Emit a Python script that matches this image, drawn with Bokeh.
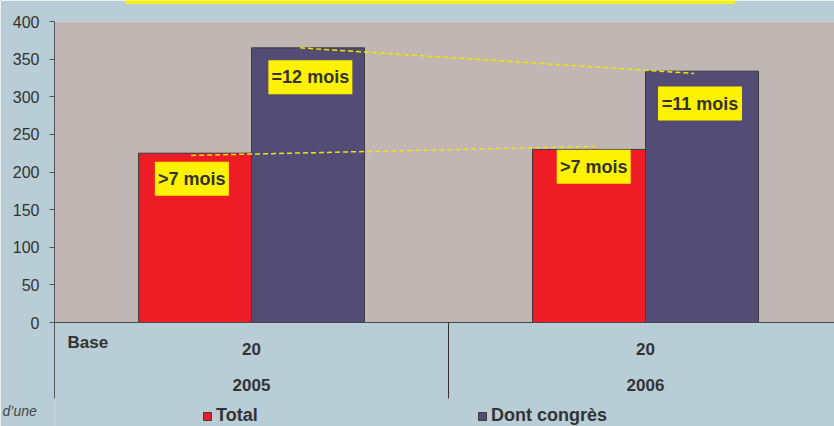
from bokeh.plotting import figure
from bokeh.models import Range1d, FixedTicker, Legend, LegendItem, Label, ColumnDataSource
from bokeh.core.properties import value
from bokeh.embed import file_html
from bokeh.resources import INLINE

# ---------------- data ----------------
years = ["2005", "2006"]
base_n = ["20", "20"]
total = [225, 230]
congres = [365, 334]
total_labels = [">7 mois", ">7 mois"]
congres_labels = ["=12 mois", "=11 mois"]
total_label_y = [191, 207]
congres_label_y = [326, 291]
trend_total = [222, 234]
trend_congres = [365, 331]
y_ticks = [0, 50, 100, 150, 200, 250, 300, 350, 400]

# ---------------- layout constants ----------------
W, H = 834, 426
LEFT = 54                  # frame left (px)
TOP = 21                   # frame top (px) = value 400
GROUP_PX = 394.0           # width of one category (px)
PX = 301.0 / 400.0         # px per y unit
ZERO_PAGE = 322.0          # y of value 0
x_end = (W - LEFT) / GROUP_PX
y_start = -(H - ZERO_PAGE) / PX
y_end = 400
table_bottom = -(398 - ZERO_PAGE) / PX

BG = "#B8CDD5"
PLOT_BG = "#C0B7B4"
RED = "#EE1C24"
PURPLE = "#534C74"
YELLOW = "#FFF200"
TXT = "#333333"
FONT = "Liberation Sans"

bar_w = 113.0 / GROUP_PX
half = bar_w / 2
centers = [i + 0.5 for i in range(len(years))]
x_total = [c - half for c in centers]
x_cong = [c + half for c in centers]

p = figure(width=W, height=H, output_backend="svg", toolbar_location=None,
           x_range=Range1d(0, x_end), y_range=Range1d(y_start, y_end),
           min_border_left=LEFT, min_border_right=0, min_border_top=TOP, min_border_bottom=0,
           x_axis_location=None)
p.background_fill_color = BG
p.border_fill_color = BG
p.outline_line_color = None
p.grid.visible = False

# plot area background
p.quad(left=[0], right=[x_end], bottom=[0], top=[400], fill_color=PLOT_BG, line_color=None)

# bars
src_t = ColumnDataSource(dict(x=x_total, top=total))
src_c = ColumnDataSource(dict(x=x_cong, top=congres))
r_t = p.vbar(x="x", top="top", bottom=0, width=bar_w, source=src_t,
             fill_color=RED, line_color="#3c3c3c", line_width=1)
r_c = p.vbar(x="x", top="top", bottom=0, width=bar_w, source=src_c,
             fill_color=PURPLE, line_color="#3c3c3c", line_width=1)

# dashed trend lines
p.line(x=[x_total[0] - 0.01, x_total[1] + 0.015], y=trend_total,
       line_color="#F2E600", line_width=1.5, line_dash="5 3")
p.line(x=[x_cong[0] - 0.02, x_cong[1] - 0.02], y=trend_congres,
       line_color="#F2E600", line_width=1.5, line_dash="5 3")

# zero baseline and divider
p.segment(x0=[0], y0=[0], x1=[x_end], y1=[0], line_color="#4a4a4a", line_width=1)
p.segment(x0=[1.0], y0=[0], x1=[1.0], y1=[table_bottom], line_color="#333333", line_width=1)

# value boxes
tx = [x_total[0] - 0.008, x_total[1] + 0.012]
cx = [x_cong[0] + 0.006, x_cong[1] - 0.005]
p.rect(x=tx, y=total_label_y, width=74, height=34,
       width_units="screen", height_units="screen", fill_color=YELLOW, line_color=None)
p.rect(x=cx, y=congres_label_y, width=84, height=34,
       width_units="screen", height_units="screen", fill_color=YELLOW, line_color=None)
p.text(x=tx, y=total_label_y, text=total_labels,
       text_font=value(FONT), text_font_style="bold", text_font_size="18px",
       text_color=TXT, text_align="center", text_baseline="middle")
p.text(x=cx, y=congres_label_y, text=congres_labels,
       text_font=value(FONT), text_font_style="bold", text_font_size="18px",
       text_color=TXT, text_align="center", text_baseline="middle")

# table under axis
p.text(x=[(67 - 54) / GROUP_PX], y=[-(341.5 - ZERO_PAGE) / PX], text=["Base"],
       text_font=value(FONT), text_font_style="bold", text_font_size="17px",
       text_color=TXT, text_align="left", text_baseline="middle")
p.text(x=centers, y=[-(348 - ZERO_PAGE) / PX] * len(centers), text=base_n,
       text_font=value(FONT), text_font_style="bold", text_font_size="17px",
       text_color=TXT, text_align="center", text_baseline="middle")
p.text(x=centers, y=[-(384.5 - ZERO_PAGE) / PX] * len(centers), text=years,
       text_font=value(FONT), text_font_style="bold", text_font_size="17px",
       text_color=TXT, text_align="center", text_baseline="middle")

# y axis
ax = p.yaxis[0]
ax.ticker = FixedTicker(ticks=y_ticks)
ax.bounds = (table_bottom, 400)
ax.axis_line_color = "#555555"
ax.major_tick_line_color = "#555555"
ax.major_tick_out = 5
ax.major_tick_in = 0
ax.minor_tick_line_color = None
ax.major_label_standoff = 10
ax.major_label_text_font = FONT
ax.major_label_text_font_size = "16px"
ax.major_label_text_color = TXT

# bottom edge of the (cropped) yellow title box, drawn in the top border
p.add_layout(Label(x=125, y=0, x_units="canvas", y_units="canvas", text="\u00a0" * 731,
                   text_font=FONT, text_font_size="3px", text_color=YELLOW,
                   background_fill_color=YELLOW, text_align="left", text_baseline="top"),
             "above")

# footnote fragment on the left (in a side panel so it is not clipped by the frame)
p.add_layout(Label(x=2, y=410, x_units="canvas", y_units="canvas", text="d\u2019une",
                   text_font=FONT, text_font_style="italic", text_font_size="14px",
                   text_color="#444444", text_align="left", text_baseline="middle"), "above")

# legend
legend = Legend(items=[LegendItem(label="Total", renderers=[r_t]),
                       LegendItem(label="Dont congrès", renderers=[r_c])],
                orientation="horizontal", location=(148, 0),
                glyph_width=10, glyph_height=10, label_standoff=4, label_width=261,
                spacing=0, padding=0, margin=0, label_height=16,
                label_text_font=FONT, label_text_font_style="bold",
                label_text_font_size="18px", label_text_color=TXT,
                background_fill_alpha=0, border_line_color=None)
p.add_layout(legend)

open("out.html", "w").write(file_html(p, INLINE))
